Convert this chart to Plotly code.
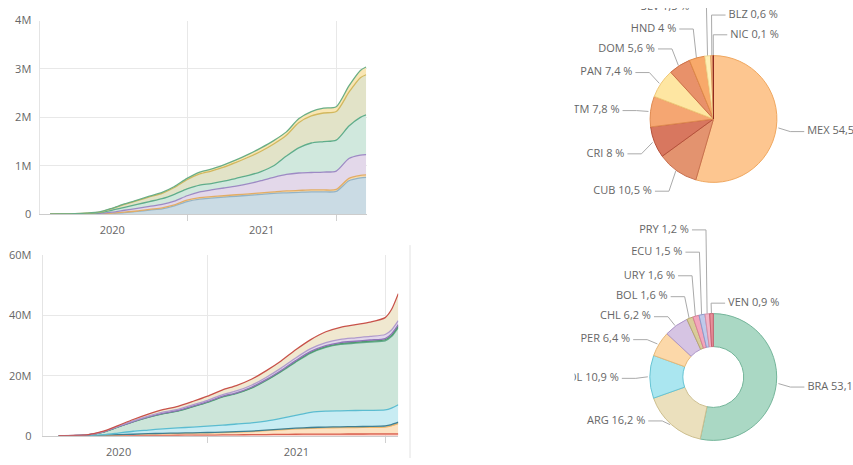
import math
import plotly.graph_objects as go

W, H = 853, 465

# ---------------- data: top area chart (values in millions, stacked) ----------------
top_dates = ["2020-02-01", "2020-03-01", "2020-04-01", "2020-05-01", "2020-06-01", "2020-07-01",
             "2020-08-01", "2020-09-01", "2020-10-01", "2020-11-01", "2020-12-01", "2021-01-01",
             "2021-02-01", "2021-03-01", "2021-04-01", "2021-05-01", "2021-06-01", "2021-07-01",
             "2021-08-01", "2021-09-01", "2021-10-01", "2021-11-01", "2021-12-01", "2022-01-01",
             "2022-02-01", "2022-03-01", "2022-03-15"]
top_s1 = [0, 0.001, 0.002, 0.003, 0.004, 0.015, 0.03, 0.055, 0.085, 0.11, 0.17, 0.26, 0.31, 0.33,
          0.35, 0.37, 0.39, 0.41, 0.43, 0.44, 0.45, 0.46, 0.46, 0.47, 0.69, 0.75, 0.76]
top_s2 = [0, 0, 0.001, 0.001, 0.002, 0.005, 0.01, 0.01, 0.015, 0.02, 0.02, 0.03, 0.03, 0.03,
          0.03, 0.03, 0.03, 0.03, 0.03, 0.04, 0.04, 0.04, 0.04, 0.04, 0.05, 0.05, 0.05]
top_s3 = [0, 0.001, 0.002, 0.004, 0.01, 0.02, 0.04, 0.055, 0.06, 0.07, 0.08, 0.09, 0.12, 0.14,
          0.16, 0.18, 0.21, 0.25, 0.30, 0.34, 0.36, 0.36, 0.37, 0.38, 0.41, 0.42, 0.42]
top_s4 = [0, 0.001, 0.002, 0.005, 0.014, 0.04, 0.06, 0.08, 0.1, 0.12, 0.14, 0.14, 0.14, 0.13,
          0.14, 0.16, 0.17, 0.19, 0.24, 0.38, 0.52, 0.61, 0.63, 0.64, 0.67, 0.78, 0.82]
top_s5 = [0, 0.001, 0.002, 0.005, 0.01, 0.035, 0.06, 0.08, 0.095, 0.11, 0.14, 0.19, 0.23, 0.26,
          0.29, 0.33, 0.38, 0.42, 0.45, 0.43, 0.52, 0.56, 0.59, 0.59, 0.70, 0.82, 0.83]
top_s6 = [0, 0.001, 0.001, 0.002, 0.005, 0.005, 0.01, 0.01, 0.015, 0.02, 0.02, 0.03, 0.04, 0.04,
          0.05, 0.05, 0.06, 0.07, 0.07, 0.07, 0.08, 0.09, 0.10, 0.10, 0.13, 0.15, 0.16]
top_names = ["Serie 1", "Serie 2", "Serie 3", "Serie 4", "Serie 5", "Serie 6"]
top_ticks = [0, 1, 2, 3, 4]
top_ticktext = ["0", "1M", "2M", "3M", "4M"]

# ---------------- data: bottom area chart (cumulative layer tops, millions) ----------------
bot_dates = ["2020-03-01", "2020-04-01", "2020-05-01", "2020-06-01", "2020-07-01", "2020-08-01",
             "2020-09-01", "2020-10-01", "2020-11-01", "2020-12-01", "2021-01-01", "2021-02-01",
             "2021-03-01", "2021-04-01", "2021-05-01", "2021-06-01", "2021-07-01", "2021-08-01",
             "2021-09-01", "2021-10-01", "2021-11-01", "2021-12-01", "2022-01-01", "2022-01-14",
             "2022-01-28"]
bot_l1 = [0, 0.005, 0.01, 0.03, 0.05, 0.08, 0.1, 0.13, 0.16, 0.19, 0.22, 0.26, 0.3, 0.35, 0.4,
          0.45, 0.5, 0.54, 0.56, 0.57, 0.58, 0.59, 0.6, 0.62, 0.65]
bot_l2 = [0, 0.01, 0.04, 0.15, 0.3, 0.45, 0.6, 0.7, 0.8, 0.88, 0.97, 1.07, 1.2, 1.4, 1.7, 2.0,
          2.3, 2.5, 2.6, 2.7, 2.75, 2.8, 2.9, 3.3, 4.0]
bot_l3 = [0, 0.015, 0.06, 0.2, 0.35, 0.5, 0.68, 0.8, 0.9, 0.98, 1.08, 1.2, 1.35, 1.55, 1.87, 2.2,
          2.52, 2.75, 2.88, 2.98, 3.05, 3.1, 3.25, 3.7, 4.5]
bot_l4 = [0, 0.03, 0.1, 0.35, 0.9, 1.5, 1.9, 2.3, 2.6, 2.9, 3.2, 3.5, 3.9, 4.3, 4.9, 5.8, 6.8,
          7.8, 8.2, 8.3, 8.4, 8.45, 8.6, 9.2, 10.3]
bot_l5 = [0, 0.06, 0.3, 1.2, 2.9, 4.6, 6.1, 7.3, 8.2, 9.6, 11.1, 12.9, 14.0, 15.8, 18.3, 21.3,
          24.5, 27.5, 29.4, 30.4, 30.8, 31.2, 31.6, 33.0, 36.0]
bot_l6 = [0, 0.065, 0.31, 1.23, 2.95, 4.66, 6.17, 7.38, 8.29, 9.7, 11.21, 13.02, 14.14, 15.96,
          18.47, 21.5, 24.73, 27.75, 29.67, 30.68, 31.1, 31.5, 31.95, 33.4, 36.5]
bot_l7 = [0, 0.07, 0.33, 1.27, 3.0, 4.73, 6.25, 7.47, 8.4, 9.82, 11.34, 13.17, 14.3, 16.14,
          18.67, 21.73, 25.0, 28.05, 30.0, 31.0, 31.45, 31.86, 32.35, 33.9, 37.0]
bot_l8 = [0, 0.08, 0.36, 1.35, 3.15, 4.95, 6.55, 7.85, 8.8, 10.25, 11.8, 13.7, 14.9, 16.8, 19.4,
          22.5, 25.9, 29.0, 31.0, 32.1, 32.6, 33.05, 33.7, 35.2, 38.3]
bot_l9 = [0, 0.1, 0.4, 1.5, 3.4, 5.4, 7.2, 8.7, 9.8, 11.4, 13.2, 15.3, 16.7, 18.8, 21.6, 24.9,
          28.6, 32.0, 34.6, 36.1, 37.0, 37.8, 39.3, 42.0, 47.3]
bot_names = ["VEN", "PER", "ECU", "COL", "BRA", "URY", "PRY", "CHL", "ARG"]
bot_ticks = [0, 20, 40, 60]
bot_ticktext = ["0", "20M", "40M", "60M"]

# ---------------- data: pies (percent) ----------------
ca_names = ["MEX", "CUB", "CRI", "GTM", "PAN", "DOM", "HND", "SLV", "BLZ", "NIC"]
ca_values = [54.5, 10.5, 8, 7.8, 7.4, 5.6, 4, 1.5, 0.6, 0.1]
sa_names = ["BRA", "ARG", "COL", "PER", "CHL", "BOL", "URY", "ECU", "PRY", "VEN"]
sa_values = [53.1, 16.2, 10.9, 6.4, 6.2, 1.6, 1.6, 1.5, 1.2, 0.9]

# ---------------- styles / layout constants ----------------
FONT = "Open Sans"
TICK_FONT = dict(family=FONT, size=11, color="#666666")
GRID = "#e8e8e8"

top_fill = ["#cadbe4", "#f6dcb0", "#e3d8ea", "#d0e8dd", "#e2e3c8", "#f9e6b4"]
top_line = ["#93b3c6", "#e2ad66", "#9d8ac4", "#5fad8b", "#d2b85e", "#6aae86"]
bot_fill = ["#f4b4a8", "#fde2c2", "#8fbfcc", "#c8ecf3", "#cce5d9", "#9fd0b2", "#c9b7dd",
            "#e2d7eb", "#f0e8d0"]
bot_line = ["#d9604f", "#efb56a", "#3f7f92", "#5bbcd0", "#62aa8c", "#4c9a6a", "#8f74b8",
            "#b09bcc", "#c8524a"]
ca_colors = ["#fdc690", "#e3936f", "#d8775f", "#f5a672", "#fee6a2", "#e8916a", "#f8a96a",
             "#feefb5", "#f9bd8a", "#b0362a"]
ca_border = ["#f0a860", "#c8704f", "#b5503a", "#e08a50", "#f0c878", "#cc7048", "#e08a48",
             "#f0d890", "#e09a60", "#902a20"]
sa_colors = ["#aad8c4", "#ebe0bd", "#aae6f0", "#fcd8a9", "#d6c4e3", "#d9cc9a", "#f3a6bc",
             "#bfc9ea", "#f2b6c8", "#e8909a"]
sa_border = ["#74b59a", "#cdbf8f", "#66c4d4", "#e6b878", "#ad95c8", "#b8a870", "#d98098",
             "#8e9acc", "#d890a8", "#c86070"]

# pixel boxes
TOP_PLOT = (39.5, 13, 366.5, 213)      # x0, y0, x1, y1
BOT_PLOT = (42.7, 255.7, 398.3, 442)
TOP_PIE = (713.5, 114.7, 65.5)         # cx, cy, r
BOT_PIE = (713.3, 381.3, 65.5)
CLIP_X = 574.5

# label vertical positions (px) and sides for the pie labels
ca_label_y = [127.7, 189.3, 150.7, 106, 66.7, 42.3, 21.7, -1, 7.3, 27.7]
ca_label_side = ["r", "l", "l", "l", "l", "l", "l", "l", "r", "r"]
sa_label_y = [391.7, 426.7, 382.7, 342.7, 319, 298.3, 276.7, 252.3, 229.3, 305]
sa_label_side = ["r", "l", "l", "l", "l", "l", "l", "l", "l", "r"]


def xdom(box):
    return [box[0] / W, box[2] / W]


def ydom(box):
    return [1 - box[3] / H, 1 - box[1] / H]


def pie_domain(p):
    cx, cy, r = p
    return dict(x=[(cx - r) / W, (cx + r) / W], y=[1 - (cy + r) / H, 1 - (cy - r) / H])


def fmt(v):
    return ("%g" % v).replace(".", ",")


fig = go.Figure()

# top stacked area
for name, vals, fc, lc in zip(top_names, [top_s1, top_s2, top_s3, top_s4, top_s5, top_s6],
                              top_fill, top_line):
    fig.add_trace(go.Scatter(x=top_dates, y=vals, name=name, stackgroup="top", mode="lines",
                             line=dict(color=lc, width=1.3, shape="spline", smoothing=0.7),
                             fillcolor=fc, xaxis="x", yaxis="y", showlegend=False))

# bottom stacked area (cumulative tops)
for i, (name, vals, fc, lc) in enumerate(zip(
        bot_names, [bot_l1, bot_l2, bot_l3, bot_l4, bot_l5, bot_l6, bot_l7, bot_l8, bot_l9],
        bot_fill, bot_line)):
    fig.add_trace(go.Scatter(x=bot_dates, y=vals, name=name, mode="lines",
                             fill="tozeroy" if i == 0 else "tonexty",
                             line=dict(color=lc, width=1.3, shape="spline", smoothing=0.7),
                             fillcolor=fc, xaxis="x2", yaxis="y2", showlegend=False))

# pies
fig.add_trace(go.Pie(labels=ca_names, values=ca_values, sort=False, direction="clockwise",
                     rotation=0, textinfo="none", showlegend=False,
                     marker=dict(colors=ca_colors, line=dict(color=ca_border, width=1)),
                     domain=pie_domain(TOP_PIE)))
fig.add_trace(go.Pie(labels=sa_names, values=sa_values, sort=False, direction="clockwise",
                     rotation=0, textinfo="none", showlegend=False, hole=0.48,
                     marker=dict(colors=sa_colors, line=dict(color=sa_border, width=1)),
                     domain=pie_domain(BOT_PIE)))

# pie leader lines and labels (pixel overlay axes)
L1, L2, GAP = 12, 14, 3


def leaders(names, values, pie, label_y, sides):
    cx, cy, r = pie
    total = sum(values)
    lx, ly, tx, ty, tt, tp = [], [], [], [], [], []
    acc = 0.0
    for n, v, yl, side in zip(names, values, label_y, sides):
        a = (acc + v / 2) / total * 2 * math.pi
        acc += v
        s, c = math.sin(a), -math.cos(a)
        x0, y0 = cx + r * s, cy + r * c
        x1 = cx + (r + L1) * s
        sg = 1 if side == "r" else -1
        x2 = x1 + sg * L2
        lx += [x0, x1, x2, None]
        ly += [y0, yl, yl, None]
        tx.append(x2 + sg * GAP)
        ty.append(yl)
        tt.append(n + " " + fmt(v) + " %")
        tp.append("middle right" if side == "r" else "middle left")
    return lx, ly, tx, ty, tt, tp


for names, values, pie, lyv, sides in [(ca_names, ca_values, TOP_PIE, ca_label_y, ca_label_side),
                                       (sa_names, sa_values, BOT_PIE, sa_label_y, sa_label_side)]:
    lx, ly, tx, ty, tt, tp = leaders(names, values, pie, lyv, sides)
    fig.add_trace(go.Scatter(x=lx, y=ly, mode="lines", line=dict(color="#aaaaaa", width=1),
                             xaxis="x3", yaxis="y3", hoverinfo="skip", showlegend=False))
    fig.add_trace(go.Scatter(x=tx, y=ty, mode="text", text=tt, textposition=tp,
                             textfont=dict(family=FONT, size=11, color="#666666"),
                             xaxis="x3", yaxis="y3", hoverinfo="skip", showlegend=False,
                             cliponaxis=True))

xcommon = dict(type="date", dtick="M12", tick0="2020-01-01", ticklabelmode="period",
               tickformat="%Y", showgrid=True, gridcolor=GRID, gridwidth=1, ticks="outside",
               ticklen=6, tickcolor="#d0d0d0", showline=True, linecolor="#cccccc",
               tickfont=TICK_FONT, zeroline=False, fixedrange=True)
ycommon = dict(showgrid=True, gridcolor=GRID, gridwidth=1, showline=True, linecolor="#e4e4e4",
               ticks="", tickfont=TICK_FONT, zeroline=False, fixedrange=True)

fig.update_layout(
    width=W, height=H, margin=dict(l=0, r=0, t=0, b=0),
    paper_bgcolor="white", plot_bgcolor="white",
    font=dict(family=FONT, color="#666666"),
    xaxis=dict(domain=xdom(TOP_PLOT), range=["2020-01-06", "2022-03-16"], anchor="y",
               **xcommon),
    yaxis=dict(domain=ydom(TOP_PLOT), range=[0, 4], tickvals=top_ticks, ticktext=top_ticktext,
               anchor="x", ticklabelstandoff=5, **ycommon),
    xaxis2=dict(domain=xdom(BOT_PLOT), range=["2020-01-28", "2022-01-28"], anchor="y2",
                **xcommon),
    yaxis2=dict(domain=ydom(BOT_PLOT), range=[0, 60], tickvals=bot_ticks,
                ticktext=bot_ticktext, anchor="x2", ticklabelstandoff=8, **ycommon),
    xaxis3=dict(domain=[CLIP_X / W, 1], range=[CLIP_X, W], visible=False, anchor="y3",
                fixedrange=True),
    yaxis3=dict(domain=[0, 1], range=[H, 0], visible=False, anchor="x3", fixedrange=True),
    shapes=[dict(type="line", xref="paper", yref="paper", x0=410 / W, x1=410 / W,
                 y0=0, y1=1 - 245 / H, line=dict(color="#e2e2e2", width=1))],
)

fig.write_html("out.html",
               config={"displayModeBar": False},
               post_script="document.body.style.margin='0';"
                           "document.documentElement.style.overflow='hidden';")
